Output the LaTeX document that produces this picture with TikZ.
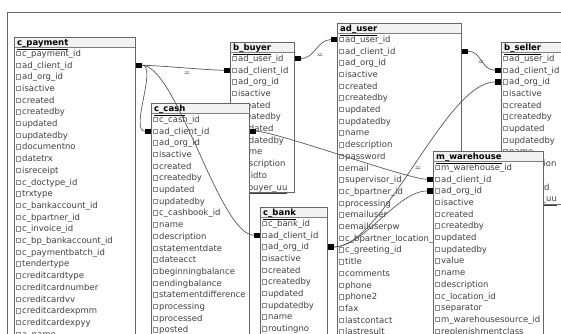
\documentclass[tikz,border=0pt]{standalone}
\usepackage{fontspec}
\setmainfont{DejaVu Sans}
\usepackage{tikz}

% #1 name, #2 left, #3 top, #4 width, #5 height, #6 title, #7 columns
\newcommand{\dbtable}[7]{%
  \node[tbl, minimum width=#4pt, minimum height=#5pt, anchor=north west] (#1) at (#2,#3) {};
  \fill[gray!10] (#2+0.6,#3+0.6) rectangle (#2+#4-0.6,#3+10.6);
  \draw[black!50] (#2,#3+10.6) -- (#2+#4,#3+10.6);
  \node[tbltitle] (#1-t) at (#2+3,#3+8.6) {\underline{#6}};
  \foreach \colname [count=\n] in {#7}{
    \draw[chk] (#2+2,#3+2.4+11.7*\n) rectangle ++(4.4,4.4);
    \node[col] (#1-\n) at (#2+8,#3+7.6+11.7*\n) {\colname};
  }
}

\begin{document}
\begin{tikzpicture}[x=1pt, y=-1pt, font=\fontsize{8.5}{10}\selectfont,
  tbl/.style={draw=black!60, line width=1pt, fill=white, inner sep=0},
  tbltitle/.style={anchor=base west, inner sep=0, font=\fontsize{8.5}{10}\selectfont\bfseries},
  col/.style={anchor=base west, inner sep=0, text=black!75},
  chk/.style={draw=black!45, line width=0.5pt, fill=white},
  fk/.style={fill=black, minimum size=5.5pt, inner sep=0},
  rel/.style={draw=black!65, line width=0.7pt},
  eq/.style={font=\fontsize{7.5}{7.5}\selectfont, text=black!65, inner sep=0}]
	\useasboundingbox (0,0) rectangle (561,333);
	\clip (0,0) rectangle (561,333);
	%canvas
	\fill[white] (0,0) rectangle (561,333);
	\draw[black!60, line width=0.8pt] (7,12) rectangle (600,400);
	%tables
	\dbtable{pay}{14}{37}{121}{310}{c\_payment}{c\_payment\_id, ad\_client\_id, ad\_org\_id, isactive,
		created, createdby, updated, updatedby, documentno, datetrx, isreceipt, c\_doctype\_id,
		trxtype, c\_bankaccount\_id, c\_bpartner\_id, c\_invoice\_id, c\_bp\_bankaccount\_id,
		c\_paymentbatch\_id, tendertype, creditcardtype, creditcardnumber, creditcardvv,
		creditcardexpmm, creditcardexpyy, a\_name}
	\dbtable{buy}{230}{42}{64}{150}{b\_buyer}{ad\_user\_id, ad\_client\_id, ad\_org\_id, isactive,
		created, createdby, updated, updatedby, name, description, validto, \underline{b\_buyer\_uu}}
	\dbtable{cash}{151}{103}{98}{245}{c\_cash}{c\_cash\_id, ad\_client\_id, ad\_org\_id, isactive,
		created, createdby, updated, updatedby, c\_cashbook\_id, name, description, statementdate,
		dateacct, beginningbalance, endingbalance, statementdifference, processing, processed, posted}
	\dbtable{bank}{260}{207}{67}{140}{c\_bank}{c\_bank\_id, ad\_client\_id, ad\_org\_id, isactive,
		created, createdby, updated, updatedby, name, routingno}
	\dbtable{usr}{337}{23}{124}{325}{ad\_user}{ad\_user\_id, ad\_client\_id, ad\_org\_id, isactive,
		created, createdby, updated, updatedby, name, description, password, email, supervisor\_id,
		c\_bpartner\_id, processing, emailuser, emailuserpw, c\_bpartner\_location\_id, c\_greeting\_id,
		title, comments, phone, phone2, fax, lastcontact, lastresult}
	\dbtable{sel}{501}{42}{66}{162}{b\_seller}{ad\_user\_id, ad\_client\_id, ad\_org\_id, isactive,
		created, createdby, updated, updatedby, name, description, validto, password,
		\underline{b\_seller\_uu}}
	\dbtable{wh}{433}{151}{110}{195}{m\_warehouse}{m\_warehouse\_id, ad\_client\_id, ad\_org\_id,
		isactive, created, createdby, updated, updatedby, value, name, description, c\_location\_id,
		separator, m\_warehousesource\_id, replenishmentclass}
	%key ends
	\node[fk, anchor=west] (kpay) at (pay.east |- pay-2.mid) {};
	\node[fk, anchor=east] (kbuy) at (buy.west |- buy-2.mid) {};
	\node[fk, anchor=west] (kbuyu) at (buy.east |- buy-1.mid) {};
	\node[fk, anchor=east] (kcash) at (cash.west |- cash-2.mid) {};
	\node[fk, anchor=west] (kcashr) at (cash.east |- cash-2.mid) {};
	\node[fk, anchor=east] (kbank) at (bank.west |- bank-2.mid) {};
	\node[fk, anchor=west] (kbankr) at (bank.east |- bank-3.mid) {};
	\node[fk, anchor=east] (kusr) at (usr.west |- usr-1.mid) {};
	\node[fk, anchor=west] (kusrr) at (usr.east |- usr-2.mid) {};
	\node[fk, anchor=east] (ksel) at (sel.west |- sel-2.mid) {};
	\node[fk, anchor=east] (kselo) at (sel.west |- sel-3.mid) {};
	\node[fk, anchor=east] (kwh) at (wh.west |- wh-2.mid) {};
	\node[fk, anchor=east] (kwho) at (wh.west |- wh-3.mid) {};
	%links
	\draw[rel] (kpay.east) .. controls +(15,0) and +(-15,0) .. (kbuy.west);
	\draw[rel] (kpay.east) .. controls +(16,0) and +(-16,0) .. (kcash.west);
	\draw[rel] (kpay.east) .. controls +(35,0) and +(-35,0) .. (kbank.west);
	\draw[rel] (kcashr.east) .. controls +(20,0) and +(-20,0) .. (kwh.west);
	\draw[rel] (kbuyu.east) .. controls +(14,0) and +(-14,0) .. (kusr.west);
	\draw[rel] (kusrr.east) .. controls +(14,0) and +(-14,0) .. (ksel.west);
	\draw[rel] (kbankr.east) .. controls +(50,0) and +(-50,0) .. (kselo.west);
	\draw[rel] (kbankr.east) .. controls +(30,0) and +(-30,0) .. (kwho.west);
	%labels
	\node[eq] (eq1) at (187,74) {=};
	\node[eq] (eq2) at (320,56) {=};
	\node[eq] (eq3) at (418,169) {=};
	\node[eq] (eq4) at (481,63) {=};
\end{tikzpicture}
\end{document}
